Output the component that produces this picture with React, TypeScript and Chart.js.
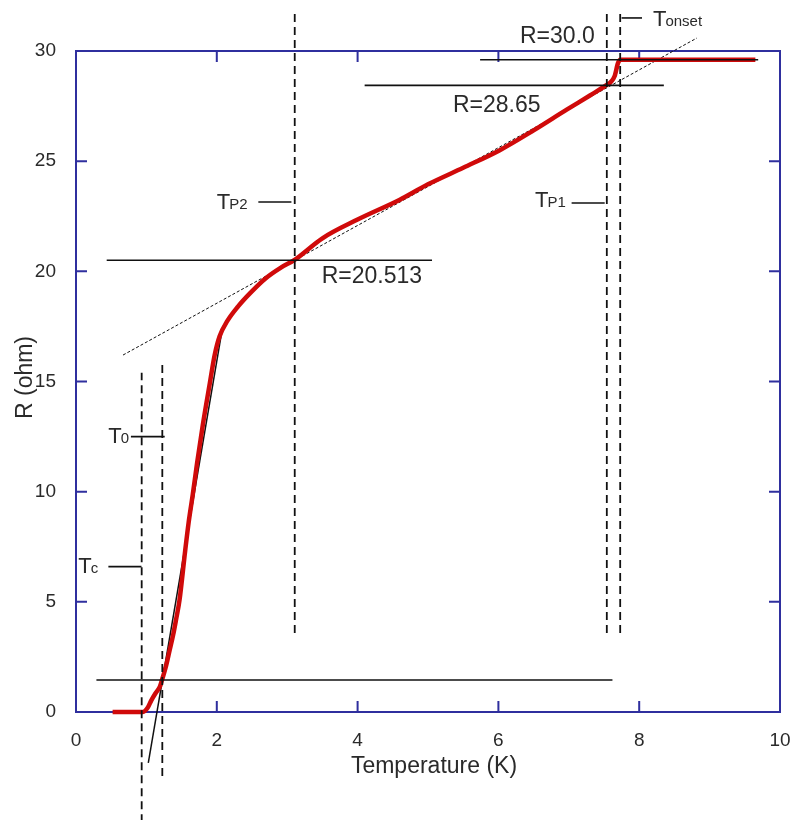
import React, { useEffect, useRef } from 'react';
import { Chart, registerables } from 'chart.js';

Chart.register(...registerables);

// ---- measured curve R(T) ----
const temperature = [0.52, 0.95, 1.02, 1.07, 1.13, 1.19, 1.22, 1.28, 1.33, 1.38, 1.42, 1.47, 1.55, 1.6, 1.66, 1.72, 1.8, 1.9, 1.97, 2.04, 2.15, 2.3, 2.47, 2.7, 2.9, 3.1, 3.5, 4.0, 4.6, 5.0, 5.5, 6.02, 6.5, 6.97, 7.3, 7.54, 7.6, 7.65, 7.7, 7.73, 8.5, 9.65];
const resistance = [0, 0, 0.2, 0.53, 0.85, 1.14, 1.44, 2.1, 2.8, 3.5, 4.17, 5.07, 7.3, 8.6, 9.9, 11.3, 13.0, 14.9, 16.2, 17.05, 17.75, 18.4, 19.0, 19.7, 20.15, 20.51, 21.5, 22.35, 23.25, 23.95, 24.7, 25.5, 26.4, 27.34, 27.98, 28.46, 28.6, 28.85, 29.46, 29.6, 29.6, 29.6];

// ---- axis ticks ----
const xTicks = [0, 2, 4, 6, 8, 10];
const yTicks = [0, 5, 10, 15, 20, 25, 30];

// ---- characteristic temperatures (vertical dashed markers) ----
const markerNames = ['Tc', 'T0', 'TP2', 'TP1', 'Tonset'];
const markerT = [0.933, 1.226, 3.107, 7.54, 7.73];
const markerRTop = [15.4, 15.94, 31.88, 31.88, 31.88];
const markerRBottom = [-5, -2.9, 3.58, 3.58, 3.58];

// ---- horizontal reference levels ----
const levelR = [20.5, 28.44, 29.6, 1.45];
const levelTStart = [0.436, 4.1, 5.74, 0.29];
const levelTEnd = [5.057, 8.35, 9.69, 7.62];
const levelText = ['R=20.513', 'R=28.65', 'R=30.0', ''];

// ---- tangent lines ----
const tangentShallowT = [0.668, 8.82];
const tangentShallowR = [16.2, 30.59];
const tangentSteepT = [1.027, 2.07];
const tangentSteepR = [-2.31, 17.24];

// ---- label leader lines (short ticks next to the T labels) ----
const leaderR = [6.6, 12.5, 23.15, 23.1, 31.5];
const leaderTStart = [0.46, 0.78, 2.59, 7.04, 7.75];
const leaderTEnd = [0.93, 1.26, 3.06, 7.51, 8.04];

// label anchors (data coordinates: left x, baseline y)
const markerLabelT = [0.033, 0.459, 2.0, 6.52, 8.196];
const markerLabelR = [6.3, 12.2, 22.82, 22.93, 31.13];
const levelLabelT = [3.49, 5.355, 6.307];
const levelLabelR = [19.46, 27.25, 30.35];

const FONT = '"Liberation Sans", Arial, sans-serif';
const TEXT = '#2a2a2a';
const FRAME = '#2f2f9e';

const seg = (x1: number, y1: number, x2: number, y2: number) => [
  { x: x1, y: y1 },
  { x: x2, y: y2 },
];

const decorPlugin = {
  id: 'decor',
  beforeDatasetsDraw(chart: any) {
    const { ctx, chartArea, scales } = chart;
    const { left, top, right, bottom } = chartArea;
    const xs = scales.x;
    const ys = scales.y;
    ctx.save();
    ctx.strokeStyle = FRAME;
    ctx.lineWidth = 2;
    ctx.strokeRect(left, top, right - left, bottom - top);
    const tl = 11;
    ctx.beginPath();
    xTicks.slice(1, -1).forEach((v) => {
      const px = xs.getPixelForValue(v);
      ctx.moveTo(px, bottom);
      ctx.lineTo(px, bottom - tl);
      ctx.moveTo(px, top);
      ctx.lineTo(px, top + tl);
    });
    yTicks.slice(1, -1).forEach((v) => {
      const py = ys.getPixelForValue(v);
      ctx.moveTo(left, py);
      ctx.lineTo(left + tl, py);
      ctx.moveTo(right, py);
      ctx.lineTo(right - tl, py);
    });
    ctx.stroke();
    ctx.restore();
  },
  afterDatasetsDraw(chart: any) {
    const { ctx, chartArea, scales } = chart;
    const xs = scales.x;
    const ys = scales.y;
    ctx.save();
    ctx.fillStyle = TEXT;
    ctx.textBaseline = 'alphabetic';
    ctx.textAlign = 'left';
    ctx.font = `23px ${FONT}`;
    levelLabelT.forEach((t, i) => {
      ctx.fillText(levelText[i], xs.getPixelForValue(t), ys.getPixelForValue(levelLabelR[i]));
    });
    markerNames.forEach((name, i) => {
      const px = xs.getPixelForValue(markerLabelT[i]);
      const py = ys.getPixelForValue(markerLabelR[i]);
      ctx.font = `22px ${FONT}`;
      ctx.fillText('T', px, py);
      const w = ctx.measureText('T').width;
      ctx.font = `15px ${FONT}`;
      ctx.fillText(name.slice(1), px + w - 1, py);
    });
    ctx.font = `23px ${FONT}`;
    ctx.textAlign = 'center';
    ctx.fillText('Temperature (K)', xs.getPixelForValue(5) + 6, chartArea.bottom + 61);
    ctx.translate(32, ys.getPixelForValue(15) - 4);
    ctx.rotate(-Math.PI / 2);
    ctx.fillText('R (ohm)', 0, 0);
    ctx.restore();
  },
};

export default function App() {
  const ref = useRef<HTMLCanvasElement | null>(null);

  useEffect(() => {
    if (!ref.current) return;
    const dashed = markerT.map((t, i) => ({
      data: seg(t, markerRBottom[i], t, markerRTop[i]),
      borderColor: '#111',
      borderWidth: 1.8,
      borderDash: [8, 5],
      pointRadius: 0,
      clip: false as any,
    }));
    const levels = levelR.map((r, i) => ({
      data: seg(levelTStart[i], r, levelTEnd[i], r),
      borderColor: '#111',
      borderWidth: 1.6,
      pointRadius: 0,
      clip: false as any,
    }));
    const leaders = leaderR.map((r, i) => ({
      data: seg(leaderTStart[i], r, leaderTEnd[i], r),
      borderColor: '#111',
      borderWidth: 1.6,
      pointRadius: 0,
      clip: false as any,
    }));
    const curve = {
      data: temperature.map((t, i) => ({ x: t, y: resistance[i] })),
      borderColor: '#d00a0a',
      borderWidth: 4.5,
      pointRadius: 0,
      cubicInterpolationMode: 'monotone',
      clip: false as any,
    };
    const tangents = [
      {
        data: seg(tangentShallowT[0], tangentShallowR[0], tangentShallowT[1], tangentShallowR[1]),
        borderColor: '#111',
        borderWidth: 1,
        borderDash: [3, 2],
        pointRadius: 0,
        clip: false as any,
      },
      {
        data: seg(tangentSteepT[0], tangentSteepR[0], tangentSteepT[1], tangentSteepR[1]),
        borderColor: '#111',
        borderWidth: 1.5,
        pointRadius: 0,
        clip: false as any,
      },
    ];
    const chart = new Chart(ref.current, {
      type: 'line',
      data: { datasets: [...dashed, ...levels, ...leaders, curve, ...tangents] as any },
      options: {
        animation: false,
        responsive: false,
        devicePixelRatio: 1,
        layout: { padding: { top: 51, right: 14, left: 0, bottom: 0 } },
        plugins: { legend: { display: false }, tooltip: { enabled: false }, title: { display: false } },
        scales: {
          x: {
            type: 'linear',
            min: 0,
            max: 10,
            afterFit: (s: any) => { s.height = 108; s.paddingLeft = 0; s.paddingRight = 0; },
            afterBuildTicks: (s: any) => { s.ticks = xTicks.map((v) => ({ value: v })); },
            grid: { display: false, drawTicks: false },
            border: { display: false },
            ticks: { color: TEXT, font: { family: FONT, size: 19 }, padding: 17, maxRotation: 0 },
          },
          y: {
            type: 'linear',
            min: 0,
            max: 30,
            afterFit: (s: any) => { s.width = 76; s.paddingTop = 0; s.paddingBottom = 0; },
            afterBuildTicks: (s: any) => { s.ticks = yTicks.map((v) => ({ value: v })); },
            grid: { display: false, drawTicks: false },
            border: { display: false },
            ticks: { color: TEXT, font: { family: FONT, size: 19 }, padding: 20 },
          },
        },
      },
      plugins: [decorPlugin],
    });
    return () => chart.destroy();
  }, []);

  return (
    <div style={{ position: 'fixed', left: 0, top: 0, width: 794, height: 820, background: '#fff' }}>
      <canvas ref={ref} width={794} height={820} />
    </div>
  );
}
